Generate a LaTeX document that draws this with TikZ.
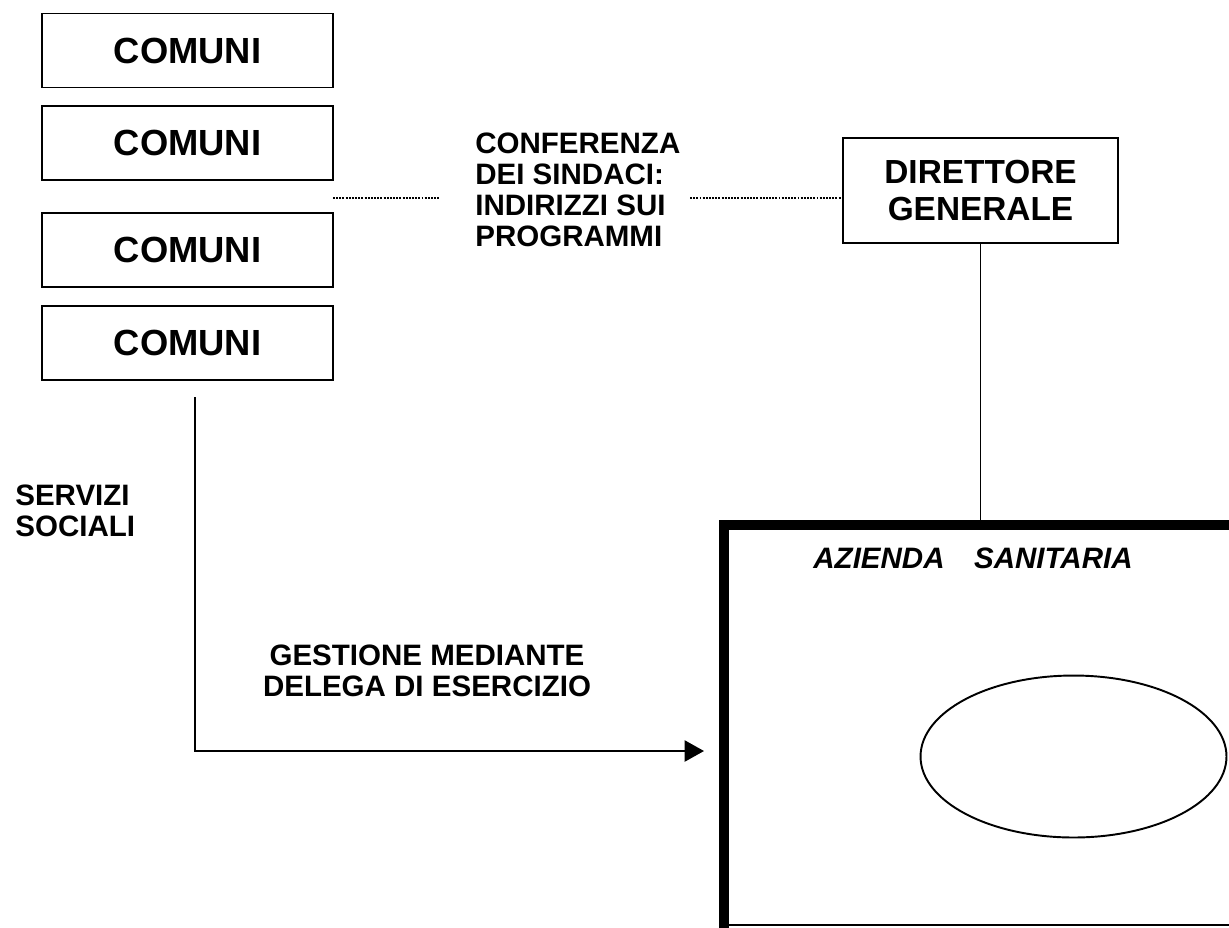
\documentclass[tikz,border=0pt]{standalone}
\usepackage{fontspec}
\setmainfont{Liberation Sans}
\usepackage{tikz}
\usetikzlibrary{arrows.meta,positioning,shapes.geometric}
\tikzset{
    box line/.style={line width=1.1pt},
    comuni box/.style={draw,box line,minimum width=5.82cm,minimum height=1.48cm,inner sep=0pt,font=\fontsize{20.7}{24}\selectfont\bfseries},
    direttore box/.style={draw,box line,minimum width=5.5cm,minimum height=2.1cm,inner sep=0pt,align=center,font=\fontsize{19}{21}\selectfont\bfseries},
    plain label/.style={inner sep=0pt,font=\fontsize{16.8}{17.6}\selectfont\bfseries},
    dotted link/.style={line width=1.2pt,dash pattern=on 1.1pt off 0.7pt},
    arr/.style={->,>={Triangle[length=11pt,width=12pt]},box line},
    azienda edge/.style={line width=5.7pt},
}
\tikzstyle{every node}=[text=black]

\begin{document}
\begin{tikzpicture}[x=0.02cm,y=-0.02cm]
        \useasboundingbox (0,0) rectangle (1229,927);
        \clip (0,0) rectangle (1229,927);
        \node[comuni box] (com1) at (187.5,50.5) {COMUNI};
        \node[comuni box] (com2) at (187.5,143) {COMUNI};
        \node[comuni box] (com3) at (187.5,250) {COMUNI};
        \node[comuni box] (com4) at (187.5,343) {COMUNI};
        \node[direttore box] (dg) at (980.5,190.5) {DIRETTORE\\GENERALE};
        \node[plain label,align=left,anchor=north west] (conf) at (475,133)
        {CONFERENZA\\DEI SINDACI:\\INDIRIZZI SUI\\PROGRAMMI};
        \coordinate (dotA) at (333,198);
        \coordinate (dotB) at (440,198);
        \coordinate (dotC) at (690,198);
        \draw[dotted link] (dotA) -- (dotB);
        \draw[dotted link] (dotC) -- (dg.west |- dotC);
        % azienda sanitaria
        \draw[azienda edge] (724,940) -- (724,525) -- (1240,525);
        \draw[box line] (724,925) -- (1240,925);
        \coordinate (aztop) at (980.5,522);
        \draw[box line] (dg.south) -- (aztop);
        \node[plain label,font=\fontsize{16.8}{17.6}\selectfont\bfseries\itshape] (az) at (973,558) {AZIENDA\hspace{1em}SANITARIA};
        \node[draw,box line,ellipse,minimum width=6.12cm,minimum height=3.24cm,inner sep=0pt] (ell) at (1073.5,756.5) {};
        % servizi sociali
        \node[plain label,align=left,anchor=north west] (serv) at (15,485) {SERVIZI\\SOCIALI};
        \node[plain label,align=center,anchor=north] (gest) at (427,645) {GESTIONE MEDIANTE\\DELEGA DI ESERCIZIO};
        \coordinate (sstart) at (195,397);
        \coordinate (send) at (704,751);
        \draw[arr] (sstart) |- (send);
    \end{tikzpicture}
\end{document}
